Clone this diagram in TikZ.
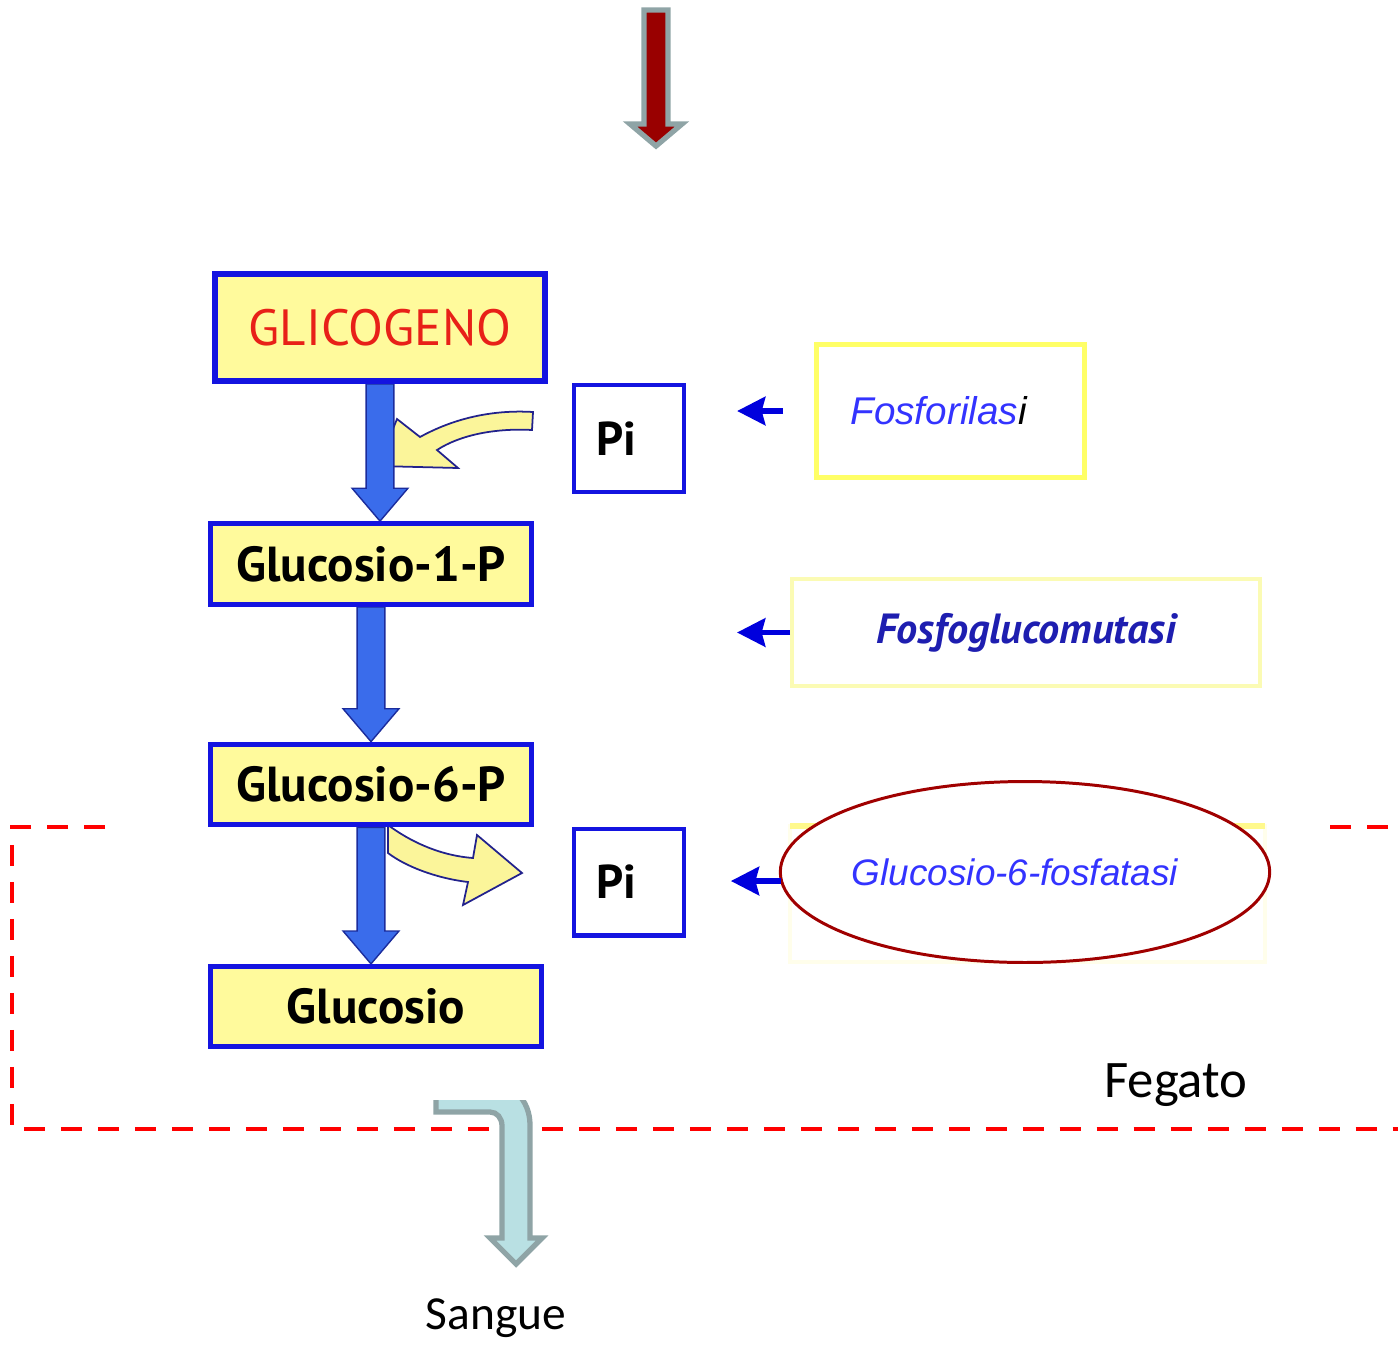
\documentclass[tikz,border=0pt]{standalone}
\usepackage{fontspec}
\setmainfont{PT Sans}
\newfontfamily\arialfont{Liberation Sans}
\newfontfamily\calibrifont{Carlito}
\usepackage{tikz}
\usetikzlibrary{shapes,backgrounds,arrows.meta,positioning,calc}
\usepackage{xcolor}
\definecolor{boxblue}{HTML}{1414E0}
\definecolor{boxyellow}{HTML}{FFFA9C}
\definecolor{glicred}{HTML}{E82018}
\definecolor{arrblue}{HTML}{3A6CEB}
\definecolor{arrline}{HTML}{1B2C9C}
\definecolor{curlyellow}{HTML}{FBF59A}
\definecolor{curlline}{HTML}{22228C}
\definecolor{enzblue}{HTML}{3333FF}
\definecolor{enzdark}{HTML}{1E1EB0}
\definecolor{arrowdark}{HTML}{0000DD}
\definecolor{fosyellow}{HTML}{FFFF66}
\definecolor{paleyellow}{HTML}{FBFBB4}
\definecolor{ellred}{HTML}{A00000}
\definecolor{arrgray}{HTML}{8FA4A6}
\definecolor{darkred}{HTML}{990000}
\definecolor{lightcyan}{HTML}{B9E0E3}
\definecolor{dashred}{HTML}{FF0000}

\tikzset{
  metabox/.style={draw=boxblue, line width=3pt, fill=boxyellow, inner sep=0pt,
    minimum width=6.41cm, minimum height=1.61cm, font=\fontsize{28}{32}\selectfont\bfseries},
  pibox/.style={draw=boxblue, line width=2.3pt, fill=white, inner sep=0pt,
    minimum width=2.2cm, minimum height=2.14cm, font=\fontsize{27}{31}\selectfont\bfseries},
  bigarrow/.style={fill=arrblue, draw=arrline, line width=0.8pt},
  curlarrow/.style={fill=curlyellow, draw=curlline, line width=1pt},
  enzarrow/.style={draw=arrowdark, line width=3.4pt, -{Stealth[length=16pt,width=16pt,inset=2pt]}},
  fegline/.style={draw=dashred, line width=2.8pt, dash pattern=on 0.42cm off 0.32cm},
}

% block arrow from the bottom of one box to the top of the next
\newcommand{\blkarrow}[2]{%
  \draw[bigarrow] let \p1=(#1.south), \p2=(#2.north) in
    (\x1-7.9pt,\y1) -- (\x1-7.9pt,\y2+18.7pt) -- (\x1-15.9pt,\y2+18.7pt) -- (\x1,\y2)
    -- (\x1+15.9pt,\y2+18.7pt) -- (\x1+7.9pt,\y2+18.7pt) -- (\x1+7.9pt,\y1) -- cycle;}

\begin{document}
\begin{tikzpicture}[x=0.02cm, y=-0.02cm]
  \useasboundingbox (0,0) rectangle (1398,1345);

  % arrow from above
  \draw[line width=3pt, draw=arrgray, fill=darkred] (644,10) -- (668,10) -- (668,124)
    -- (682,124) -- (656,146) -- (630,124) -- (644,124) -- cycle;

  % pathway
  \node[metabox, line width=3.4pt, minimum width=6.6cm, minimum height=2.14cm,
    font=\fontsize{29}{33}\selectfont, text=glicred] (glic) at (380,327.5) {GLICOGENO};
  \node[metabox] (g1p) at (371,564) {Glucosio-1-P};
  \node[metabox] (g6p) at (371,784.5) {Glucosio-6-P};
  \node[metabox, minimum width=6.62cm, minimum height=1.6cm] (glc) at (376,1006.5) {Glucosio};

  \node[pibox] (pi1) at (629,438.5) {Pi\hspace*{0.5cm}\raisebox{0.3cm}{}};
  \node[pibox] (pi2) at (629,882) {Pi\hspace*{0.5cm}\raisebox{0.3cm}{}};

  % enzymes
  \node[draw=fosyellow, line width=2.8pt, minimum height=2.66cm, text width=4.0cm,
    inner xsep=0.68cm, align=left, font=\arialfont\itshape\fontsize{22}{26}\selectfont]
    (fos) at (950.5,411) {\textcolor{enzblue}{Fosforilas}i};
  \node[draw=paleyellow, line width=2.3pt, minimum width=9.36cm, minimum height=2.14cm,
    font=\fontsize{24}{28}\selectfont\bfseries\itshape, text=enzdark] (fgm) at (1026,632.5) {Fosfoglucomutasi};
  \draw[draw=yellow!8, line width=2.3pt] (790,826) rectangle (1265,962);
  \draw[draw=yellow!45, line width=3pt] (790,826) -- (1265,826);
  \node[ellipse, draw=ellred, line width=1.7pt, fill=white, minimum width=9.7cm, minimum height=3.62cm,
    inner sep=0pt, font=\arialfont\itshape\fontsize{21}{25}\selectfont, text=enzblue]
    (g6f) at (1025,872) {Glucosio-6-fosfatasi\hspace*{0.4cm}};

  \draw[enzarrow] (fos.west) ++(-31,0) -- ++(-46,0);
  \draw[enzarrow] (fgm.west) -- ++(-53,0);
  \draw[enzarrow] ($(g6f.west)+(2,9)$) -- ++(-50,0);

  \begin{scope}[on background layer]
    \draw[curlarrow] (533,412) .. controls (500,410) and (460,415) .. (420,437) -- (397,419)
      -- (378,466) -- (458,468) -- (437,450) .. controls (460,435) and (495,428) .. (532,430) -- cycle;
    \draw[curlarrow] (388,825) .. controls (415,845) and (445,856) .. (473,858) -- (477,835)
      -- (522,873) -- (463,905) -- (468,882) .. controls (435,878) and (405,866) .. (388,853) -- cycle;
    \blkarrow{glic}{g1p}
    \blkarrow{g1p}{g6p}
    \blkarrow{g6p}{glc}
  \end{scope}

  % liver border
  \draw[fegline] (105,827) -- (12,827) -- (12,1129) -- (1398,1129);
  \draw[fegline] (1330,827) -- (1398,827);
  \node[font=\calibrifont\fontsize{30}{34}\selectfont] (fegato) at (1176,1085) {Fegato};

  % out to the blood
  \begin{scope}
    \clip (0,1100) rectangle (1398,1345);
    \draw[line width=3pt, draw=arrgray, fill=lightcyan] (436,1082) -- (488,1082)
      .. controls (512,1082) and (530,1100) .. (530,1125) -- (530,1238) -- (542,1238)
      -- (516,1264) -- (490,1238) -- (502,1238) -- (502,1126)
      .. controls (502,1118) and (497,1112) .. (490,1112) -- (436,1112) -- cycle;
  \end{scope}
  \node[font=\calibrifont\fontsize{27}{31}\selectfont] (sangue) at (496,1318) {Sangue};
\end{tikzpicture}
\end{document}
